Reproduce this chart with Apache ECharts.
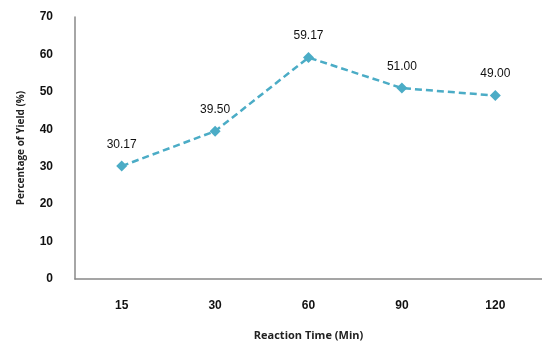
<!DOCTYPE html>
<html><head><meta charset="utf-8">
<script src="https://cdn.jsdelivr.net/npm/echarts@6/dist/echarts.min.js"></script>
<style>html,body{margin:0;padding:0;background:#fff}#c{width:542px;height:347px}</style>
</head><body><div id="c"></div>
<script>
const categories = ['15', '30', '60', '90', '120'];
const yieldValues = [30.17, 39.50, 59.17, 51.00, 49.00];
const yTicks = [0, 10, 20, 30, 40, 50, 60, 70];

const chart = echarts.init(document.getElementById('c'));
chart.setOption({
  animation: false,
  grid: { left: 75, top: 17, width: 472, height: 262 },
  xAxis: {
    type: 'category', data: categories, boundaryGap: true,
    name: 'Reaction Time (Min)', nameLocation: 'middle', nameGap: 51,
    nameTextStyle: { fontFamily: 'Open Sans', fontSize: 11, fontWeight: 'bold', color: '#222' },
    axisLine: { lineStyle: { color: '#888', width: 1.5 } },
    axisTick: { show: false },
    axisLabel: { margin: 21, fontFamily: 'Liberation Sans', fontSize: 12, fontWeight: 'bold', color: '#111' }
  },
  yAxis: {
    type: 'value', min: 0, max: 70, interval: 10,
    name: 'Percentage of Yield (%)', nameLocation: 'middle', nameGap: 49,
    nameTextStyle: { fontFamily: 'Open Sans', fontSize: 10, fontWeight: 'bold', color: '#222' },
    axisLine: { show: true, lineStyle: { color: '#888', width: 1.5 } },
    axisTick: { show: false },
    splitLine: { show: false },
    axisLabel: { margin: 22, fontFamily: 'Liberation Sans', fontSize: 12, fontWeight: 'bold', color: '#111',
      formatter: v => yTicks.includes(v) ? String(v) : '' }
  },
  series: [{
    type: 'line', data: yieldValues,
    symbol: 'diamond', symbolSize: 11,
    lineStyle: { color: '#4bacc6', width: 2.5, type: [7, 4] },
    itemStyle: { color: '#4bacc6' },
    label: { show: true, position: 'top', distance: 10, formatter: p => p.value.toFixed(2),
      fontFamily: 'Liberation Sans', fontSize: 12, color: '#111' }
  }]
});
</script></body></html>
